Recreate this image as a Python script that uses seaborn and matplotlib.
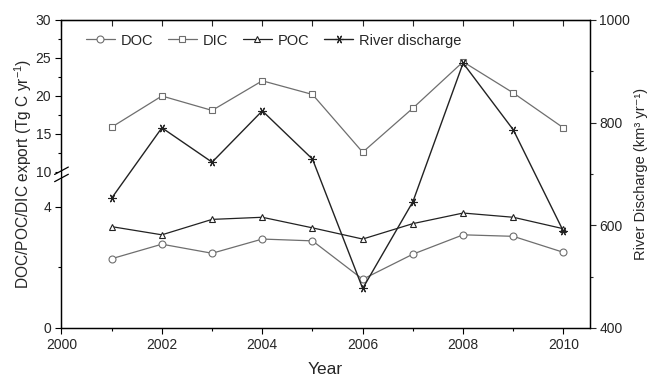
import numpy as np
import pandas as pd
import matplotlib
matplotlib.use('Agg')
import matplotlib.pyplot as plt
from matplotlib.ticker import FixedLocator, MultipleLocator
import seaborn as sns

years = [2001, 2002, 2003, 2004, 2005, 2006, 2007, 2008, 2009, 2010]
doc = [2.29, 2.77, 2.47, 2.94, 2.88, 1.61, 2.44, 3.08, 3.03, 2.50]
dic = [15.9, 20.0, 18.1, 22.0, 20.2, 12.6, 18.4, 24.5, 20.4, 15.8]
poc = [3.35, 3.08, 3.59, 3.66, 3.31, 2.94, 3.45, 3.80, 3.66, 3.28]
discharge = [653, 790, 723, 823, 729, 477, 646, 916, 786, 588]

left_ticks = [0, 4, 10, 15, 20, 25, 30]
right_ticks = [400, 600, 800, 1000]

# broken left axis: 0-5 lower part, 10-30 upper part
def fwd(v):
    v = np.asarray(v, dtype=float)
    return np.where(v <= 5, v * 30.25,
                    np.where(v < 10, 151.25 + (v - 5) * 0.95, 156 + (v - 10) * 7.6))

def inv(p):
    p = np.asarray(p, dtype=float)
    return np.where(p <= 151.25, p / 30.25,
                    np.where(p < 156, 5 + (p - 151.25) / 0.95, 10 + (p - 156) / 7.6))

sns.set_style('ticks')
plt.rcParams['font.family'] = ['Liberation Sans', 'DejaVu Sans']
plt.rcParams['mathtext.fontset'] = 'custom'
plt.rcParams['mathtext.rm'] = 'Liberation Sans'
plt.rcParams['mathtext.it'] = 'Liberation Sans'

df = pd.DataFrame({'year': years, 'DOC': doc, 'DIC': dic, 'POC': poc, 'Q': discharge})

fig = plt.figure(figsize=(6.52, 3.77), dpi=100)
ax = fig.add_axes([0.0943, 0.130, 0.810, 0.817])
ax.set_yscale('function', functions=(fwd, inv))

gray = '#6e6e6e'
dark = '#222222'
kw = dict(markerfacecolor='white', markersize=5, linewidth=0.9, markeredgewidth=0.8)
sns.lineplot(data=df, x='year', y='DOC', ax=ax, color=gray, marker='o',
             markeredgecolor=gray, label='DOC', **kw)
sns.lineplot(data=df, x='year', y='DIC', ax=ax, color=gray, marker='s',
             markeredgecolor=gray, label='DIC', **kw)
sns.lineplot(data=df, x='year', y='POC', ax=ax, color=dark, marker='^',
             markeredgecolor=dark, label='POC', **kw)

ax2 = ax.twinx()
sns.lineplot(data=df, x='year', y='Q', ax=ax2, color=dark, marker=(6, 2, 90),
             markeredgecolor=dark, markersize=6, linewidth=1.0, markeredgewidth=0.8,
             label='River discharge')

ax.set_xlim(2000, 2010.52)
ax.set_ylim(0, 30)
ax2.set_ylim(400, 1000)

ax.xaxis.set_major_locator(MultipleLocator(2))
ax.xaxis.set_minor_locator(MultipleLocator(1))
ax.yaxis.set_major_locator(FixedLocator(left_ticks))
ax.yaxis.set_minor_locator(FixedLocator([2, 12.5, 17.5, 22.5, 27.5]))
ax2.yaxis.set_major_locator(FixedLocator(right_ticks))
ax2.yaxis.set_minor_locator(MultipleLocator(100))

ax.tick_params(axis='both', which='both', labelsize=10, color='black', width=0.8)
ax.tick_params(axis='x', which='major', direction='out', length=4)
ax.tick_params(axis='x', which='minor', direction='out', length=2.5)
ax.tick_params(axis='y', which='major', direction='out', length=4)
ax.tick_params(axis='y', which='minor', direction='out', length=2.5)
ax2.tick_params(axis='y', which='major', direction='out', length=4, labelsize=10,
                width=0.8, pad=3)
ax2.tick_params(axis='y', which='minor', direction='out', length=2.5, width=0.8)

ax.set_xlabel('Year', fontsize=12.5, labelpad=7)
ax.set_ylabel('DOC/POC/DIC export (Tg C yr$^{-1}$)', fontsize=11.2, labelpad=1)
ax2.set_ylabel('River Discharge (km³ yr⁻¹)', fontsize=10.5, labelpad=3)

for a in (ax, ax2):
    for s in a.spines.values():
        s.set_linewidth(0.9)
        s.set_color('black')

# top spine has inward ticks at every year
ax.tick_params(axis='x', which='both', top=False)
ax_top = ax.secondary_xaxis('top')
ax_top.xaxis.set_major_locator(MultipleLocator(1))
ax_top.tick_params(axis='x', direction='in', length=4, labeltop=False, width=0.8)

# break marks on the left spine
bot = fwd(5) / fwd(30)
top = fwd(10) / fwd(30)
ax.plot([-0.002, -0.002], [bot - 0.004, top + 0.006], transform=ax.transAxes,
        color='white', linewidth=3, clip_on=False, zorder=5)
for yb in (bot - 0.004, top + 0.004):
    ax.plot([-0.013, 0.013], [yb - 0.012, yb + 0.012], transform=ax.transAxes,
            color='black', linewidth=0.9, clip_on=False, zorder=6)

h1, l1 = ax.get_legend_handles_labels()
h2, l2 = ax2.get_legend_handles_labels()
if ax2.get_legend():
    ax2.get_legend().remove()
ax.legend(h1 + h2, l1 + l2, loc='upper left', bbox_to_anchor=(0.035, 0.975), ncol=4,
          frameon=False, fontsize=10.5, handlelength=2.0, handletextpad=0.4,
          columnspacing=1.0, borderaxespad=0)

fig.savefig('out.png', dpi=100)
